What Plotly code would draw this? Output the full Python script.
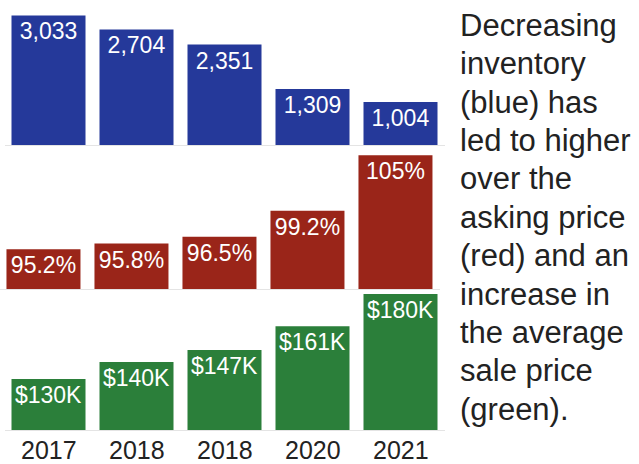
import plotly.graph_objects as go

years = ["2017", "2018", "2018", "2020", "2021"]
inventory = [3033, 2704, 2351, 1309, 1004]
inventory_labels = ["3,033", "2,704", "2,351", "1,309", "1,004"]
over_asking = [95.2, 95.8, 96.5, 99.2, 105]
over_asking_labels = ["95.2%", "95.8%", "96.5%", "99.2%", "105%"]
avg_price_k = [130, 140, 147, 161, 180]
avg_price_labels = ["$130K", "$140K", "$147K", "$161K", "$180K"]
caption_lines = ["Decreasing", "inventory", "(blue) has", "led to higher", "over the",
                 "asking price", "(red) and an", "increase in", "the average",
                 "sale price", "(green)."]

W, H = 639, 464
BLUE, RED, GREEN = "#25399a", "#9a2519", "#2b7f3a"
RED_BASE, GREEN_BASE = 91.03, 100
BAR_FONT = dict(family="Liberation Sans, Arial, sans-serif", size=23, color="white")
TXT = "Liberation Sans, Arial, sans-serif"

xs = list(range(len(years)))


def px_x(p):
    return p / W


def px_y(p):
    return (H - p) / H


fig = go.Figure()
common = dict(textposition="inside", insidetextanchor="end", constraintext="none",
              textangle=0, textfont=BAR_FONT, hoverinfo="skip", showlegend=False,
              width=74 / 88)
fig.add_trace(go.Bar(x=xs, y=inventory, text=inventory_labels, marker_color=BLUE,
                     marker_line_width=0, xaxis="x", yaxis="y", **common))
fig.add_trace(go.Bar(x=xs, y=[v - RED_BASE for v in over_asking], base=RED_BASE,
                     text=over_asking_labels, marker_color=RED, marker_line_width=0,
                     xaxis="x2", yaxis="y2", **common))
fig.add_trace(go.Bar(x=xs, y=[v - GREEN_BASE for v in avg_price_k], base=GREEN_BASE,
                     text=avg_price_labels, marker_color=GREEN, marker_line_width=0,
                     xaxis="x3", yaxis="y3", **common))

axis_line = dict(showline=True, linecolor="#e4e4e4", linewidth=1, showgrid=False,
                 zeroline=False, ticks="", fixedrange=True, showticklabels=False)

annotations = []
for i, y in enumerate(years):
    annotations.append(dict(text=y, xref="x3", yref="paper", x=xs[i], y=px_y(449.6),
                            xanchor="center", yanchor="middle", showarrow=False,
                            borderpad=0,
                            font=dict(family=TXT, size=25, color="#222")))
for i, line in enumerate(caption_lines):
    annotations.append(dict(text=line, xref="paper", yref="paper", x=px_x(458),
                            y=px_y(25.2 + 38.4 * i), xanchor="left", yanchor="middle",
                            align="left", showarrow=False,
                            font=dict(family=TXT, size=31, color="#222")))

fig.update_layout(
    width=W, height=H, margin=dict(l=0, r=0, t=0, b=0),
    paper_bgcolor="white", plot_bgcolor="white",
    xaxis=dict(domain=[px_x(4.5), px_x(444.5)], range=[-0.5, 4.5], anchor="y", **axis_line),
    xaxis2=dict(domain=[0, px_x(440)], range=[-0.494, 4.506], anchor="y2", **axis_line),
    xaxis3=dict(domain=[px_x(4.5), px_x(444.5)], range=[-0.5, 4.5], anchor="y3", **axis_line),
    yaxis=dict(domain=[px_y(145), 1], range=[0, 145 * 23.4], visible=False, fixedrange=True),
    yaxis2=dict(domain=[px_y(289.3), px_y(146)],
                range=[RED_BASE, RED_BASE + (289.3 - 146) / 9.6],
                visible=False, fixedrange=True),
    yaxis3=dict(domain=[px_y(430), px_y(290)], range=[GREEN_BASE, GREEN_BASE + 140 / 1.7],
                visible=False, fixedrange=True),
    annotations=annotations,
)

fig.write_html("out.html", config=dict(displayModeBar=False),
               post_script="document.body.style.margin='0';")
